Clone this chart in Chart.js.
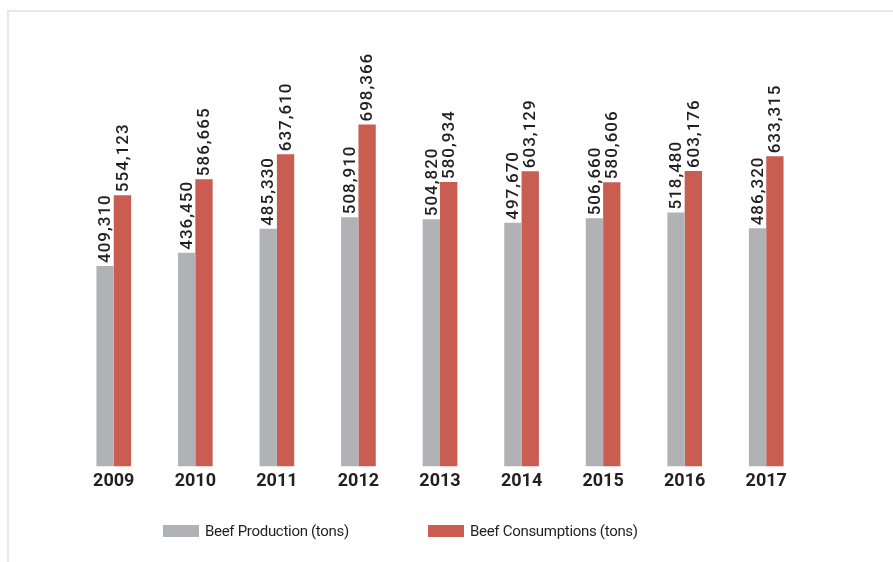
<!DOCTYPE html>
<html>
<head>
<meta charset="utf-8">
<script src="https://cdn.jsdelivr.net/npm/chart.js@4.4.1/dist/chart.umd.min.js"></script>
<style>
  html, body { margin: 0; padding: 0; background: #fff; }
  #wrap { position: relative; width: 893px; height: 562px; overflow: hidden; }
  #frame { position: absolute; left: 7px; top: 10px; width: 900px; height: 600px;
           border-left: 2px solid #e8e8e8; border-top: 2px solid #e8e8e8; }
  #c { position: absolute; left: 0; top: 0; }
</style>
</head>
<body>
<div id="wrap">
  <div id="frame"></div>
  <canvas id="c" width="893" height="562"></canvas>
</div>
<script>
const categories = ['2009', '2010', '2011', '2012', '2013', '2014', '2015', '2016', '2017'];
const production = [409310, 436450, 485330, 508910, 504820, 497670, 506660, 518480, 486320];
const consumption = [554123, 586665, 637610, 698366, 580934, 603129, 580606, 603176, 633315];
const seriesNames = ['Beef Production (tons)', 'Beef Consumptions (tons)'];
const seriesColors = ['#b1b2b5', '#c95d52'];

const FONT = 'Roboto, "Noto Sans", sans-serif';
const TEXT = '#231f20';

const valueLabels = {
  id: 'valueLabels',
  afterDatasetsDraw(chart) {
    const ctx = chart.ctx;
    ctx.save();
    ctx.fillStyle = TEXT;
    ctx.font = '500 17px ' + FONT;
    if ('letterSpacing' in ctx) ctx.letterSpacing = '1px';
    ctx.textAlign = 'left';
    ctx.textBaseline = 'middle';
    chart.data.datasets.forEach((ds, i) => {
      const meta = chart.getDatasetMeta(i);
      meta.data.forEach((bar, j) => {
        const txt = ds.data[j].toLocaleString('en-US');
        ctx.save();
        ctx.translate(bar.x + 1, bar.y - 3);
        ctx.rotate(-Math.PI / 2);
        ctx.fillText(txt, 0, 0);
        ctx.restore();
      });
    });
    ctx.restore();
  }
};

const customLegend = {
  id: 'customLegend',
  afterDraw(chart) {
    const ctx = chart.ctx;
    const starts = [163, 428];
    const y = 531;
    ctx.save();
    ctx.font = '15px ' + FONT;
    if ('letterSpacing' in ctx) ctx.letterSpacing = '-0.3px';
    ctx.textBaseline = 'middle';
    ctx.textAlign = 'left';
    chart.data.datasets.forEach((ds, i) => {
      const x = starts[i];
      ctx.fillStyle = ds.backgroundColor;
      ctx.fillRect(x, y - 6, 36, 12);
      ctx.fillStyle = TEXT;
      ctx.fillText(ds.label, x + 42, y + 1);
    });
    ctx.restore();
  }
};

new Chart(document.getElementById('c'), {
  type: 'bar',
  data: {
    labels: categories,
    datasets: [
      { label: seriesNames[0], data: production, backgroundColor: seriesColors[0] },
      { label: seriesNames[1], data: consumption, backgroundColor: seriesColors[1] }
    ]
  },
  options: {
    responsive: false,
    animation: false,
    devicePixelRatio: 1,
    layout: { padding: { top: 40, left: 73, right: 86, bottom: 66 } },
    datasets: { bar: { categoryPercentage: 0.425, barPercentage: 1.0 } },
    plugins: { legend: { display: false }, tooltip: { enabled: false } },
    scales: {
      x: {
        grid: { display: false, drawTicks: false },
        border: { display: false },
        ticks: { color: TEXT, font: { family: FONT, size: 18, weight: 'bold' }, padding: 4 }
      },
      y: { display: false, min: 0, max: 871000 }
    }
  },
  plugins: [valueLabels, customLegend]
});
</script>
</body>
</html>
